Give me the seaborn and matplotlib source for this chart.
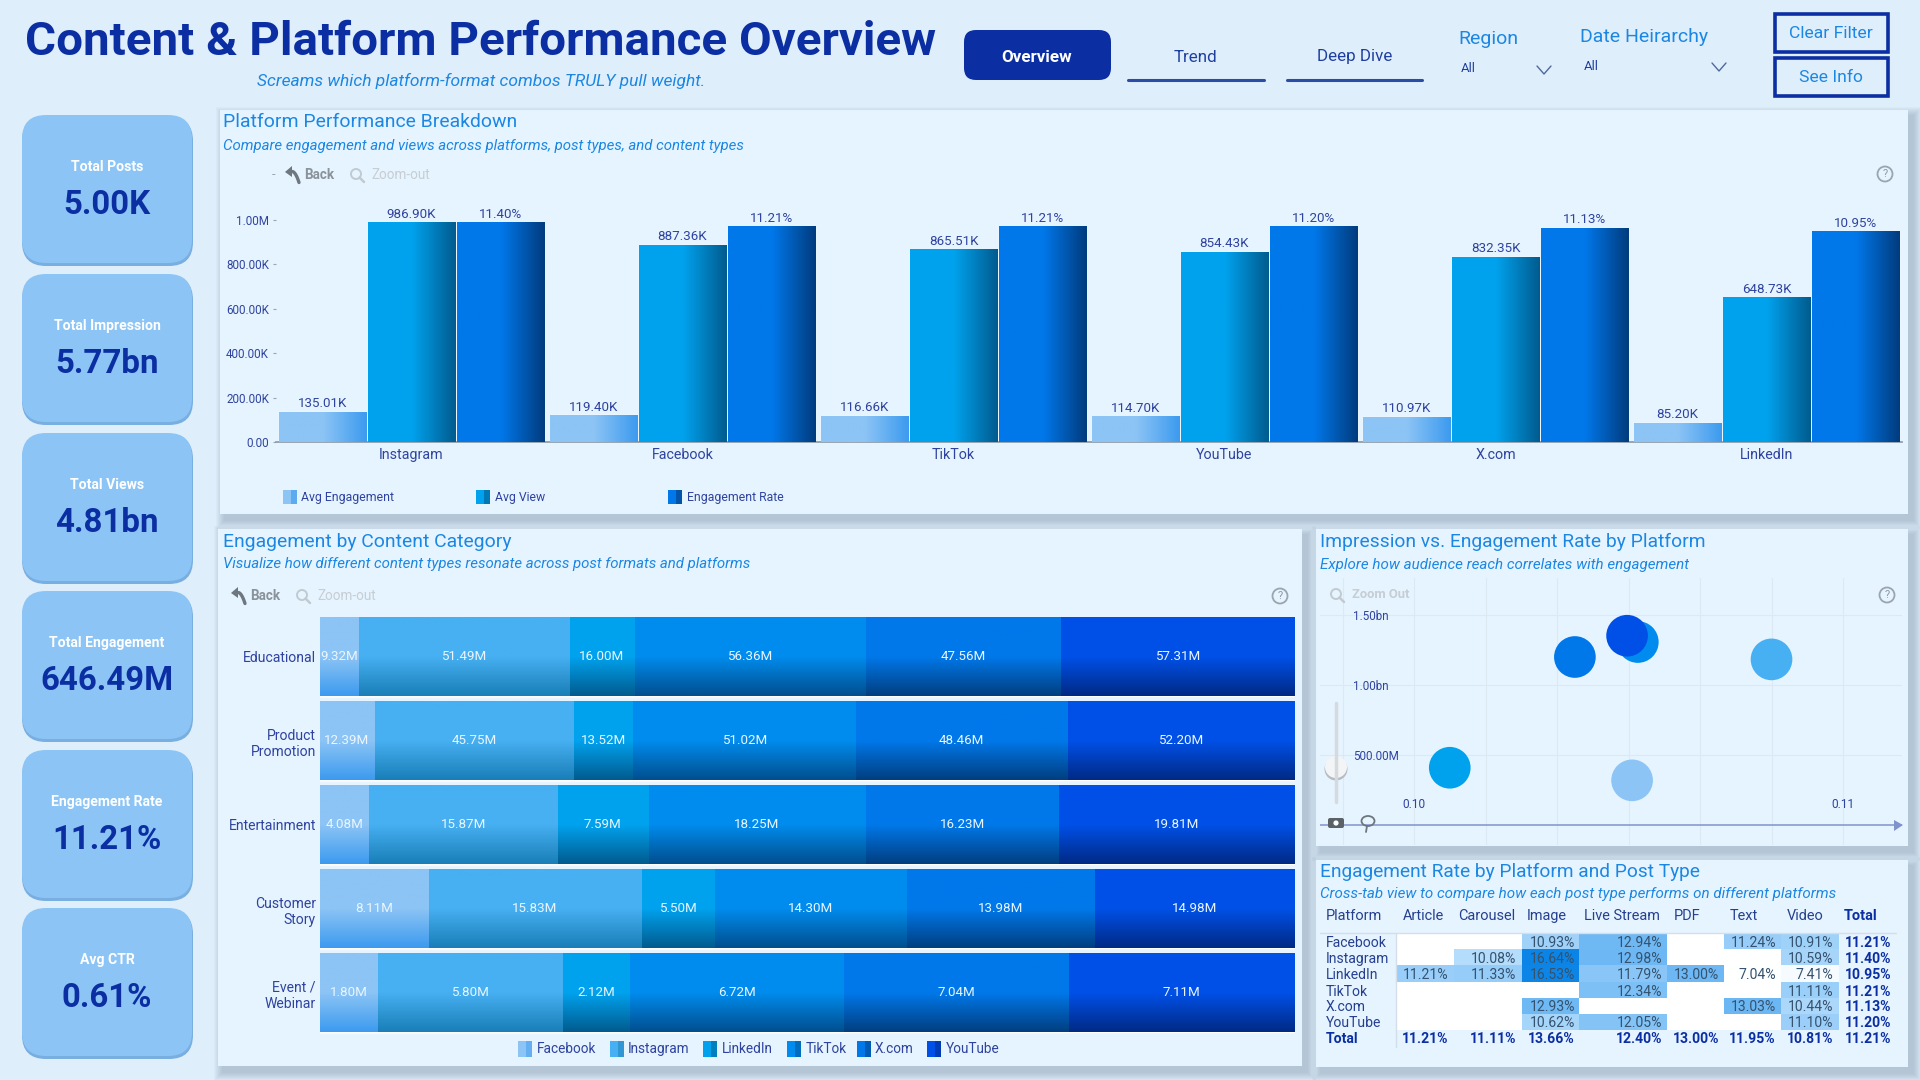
import numpy as np
import pandas as pd
import matplotlib
matplotlib.use("Agg")
import matplotlib.pyplot as plt
import seaborn as sns
from matplotlib.colors import LinearSegmentedColormap
from matplotlib.patches import Circle, Ellipse, FancyBboxPatch, Polygon, Rectangle

W, H = 1920, 1080

# KPI cards
kpi_labels = ["Total Posts", "Total Impression", "Total Views", "Total Engagement", "Engagement Rate", "Avg CTR"]
kpi_values = ["5.00K", "5.77bn", "4.81bn", "646.49M", "11.21%", "0.61%"]

# Platform Performance Breakdown
platforms_top = ["Instagram", "Facebook", "TikTok", "YouTube", "X.com", "LinkedIn"]
avg_engagement = [135.01, 119.40, 116.66, 114.70, 110.97, 85.20]  # K
avg_view = [986.90, 887.36, 865.51, 854.43, 832.35, 648.73]  # K
engagement_rate = [11.40, 11.21, 11.21, 11.20, 11.13, 10.95]  # %

# Engagement by Content Category (M)
categories = ["Educational", "Product\nPromotion", "Entertainment", "Customer\nStory", "Event /\nWebinar"]
platforms = ["Facebook", "Instagram", "LinkedIn", "TikTok", "X.com", "YouTube"]
cat_facebook = [9.32, 12.39, 4.08, 8.11, 1.80]
cat_instagram = [51.49, 45.75, 15.87, 15.83, 5.80]
cat_linkedin = [16.00, 13.52, 7.59, 5.50, 2.12]
cat_tiktok = [56.36, 51.02, 18.25, 14.30, 6.72]
cat_xcom = [47.56, 48.46, 16.23, 13.98, 7.04]
cat_youtube = [57.31, 52.20, 19.81, 14.98, 7.11]

# Impression vs. Engagement Rate (same platform order as above)
scatter_rate = [0.11205, 0.11400, 0.10950, 0.11213, 0.11125, 0.11198]
scatter_impr = [0.319, 1.183, 0.409, 1.307, 1.200, 1.352]  # bn

# Engagement Rate by Platform and Post Type
post_types = ["Article", "Carousel", "Image", "Live Stream", "PDF", "Text", "Video"]
rate_article = [np.nan, np.nan, 11.21, np.nan, np.nan, np.nan]
rate_carousel = [np.nan, 10.08, 11.33, np.nan, np.nan, np.nan]
rate_image = [10.93, 16.64, 16.53, np.nan, 12.93, 10.62]
rate_live = [12.94, 12.98, 11.79, 12.34, np.nan, 12.05]
rate_pdf = [np.nan, np.nan, 13.00, np.nan, np.nan, np.nan]
rate_text = [11.24, np.nan, 7.04, np.nan, 13.03, np.nan]
rate_video = [10.91, 10.59, 7.41, 11.11, 10.44, 11.10]
rate_total_col = [11.21, 11.40, 10.95, 11.21, 11.13, 11.20]
rate_total_row = [11.21, 11.11, 13.66, 12.40, 13.00, 11.95, 10.81, 11.21]

# colours
BG = "#DFEEFB"
PANEL = "#E6F4FF"
NAVY = "#0B2FA3"
AXIS_TXT = "#2E439F"
TITLE_BLUE = "#1B87E3"
CARD = "#8CC5F5"
TINTS = ["#8CC4F5", "#47B0F2", "#00A2EE", "#008CEE", "#0078EA", "#0050E8"]
SHADES = ["#3D9BEF", "#1A7FB8", "#005C8F", "#004F8F", "#003F80", "#002A85"]

sns.set_theme(style="white")
plt.rcParams["font.family"] = ["Roboto", "DejaVu Sans"]

fig = plt.figure(figsize=(W / 100, H / 100), dpi=100, facecolor=BG)


def px_axes(left, top, right, bottom, zorder=2):
    ax = fig.add_axes([left / W, 1 - bottom / H, (right - left) / W, (bottom - top) / H], zorder=zorder)
    ax.patch.set_alpha(0)
    return ax


def overlay(zorder):
    ax = px_axes(0, 0, W, H, zorder)
    ax.set_xlim(0, W)
    ax.set_ylim(H, 0)
    ax.axis("off")
    return ax


bg = overlay(0)
fg = overlay(10)


def label(x, y, s, px, color=AXIS_TXT, ha="left", weight="normal", style="normal", ax=None):
    (ax or fg).text(x, y, s, fontsize=px * 0.72, color=color, ha=ha, va="center",
                    fontweight=weight, fontstyle=style)


def panel(left, top, right, bottom):
    # soft shadow, mostly to the right and below
    for k in range(9, 0, -1):
        bg.add_patch(Rectangle((left - k + 5, top - k + 6), right - left + 2 * k, bottom - top + 2 * k,
                               color="#4F6B80", alpha=0.035, lw=0))
    bg.add_patch(Rectangle((left, top), right - left, bottom - top, color=PANEL, lw=0))


def gradient(ax, bar, light, dark, vertical=False):
    cmap = LinearSegmentedColormap.from_list("g", [(0, light), (0.5, light), (1, dark)])
    ramp = np.linspace(0, 1, 80)
    ramp = ramp.reshape(-1, 1) if vertical else ramp.reshape(1, -1)
    x, y, w, h = bar.get_x(), bar.get_y(), bar.get_width(), bar.get_height()
    ax.imshow(ramp, cmap=cmap, extent=(x, x + w, y + h, y), origin="upper", aspect="auto", zorder=3)


def help_icon(x, y):
    fg.add_patch(Circle((x, y), 7.5, fill=False, ec="#9AA5AE", lw=1.3))
    label(x, y, "?", 11, "#8C98A2", ha="center")


def zoom_icon(x, y):
    fg.add_patch(Circle((x - 1, y - 1), 5, fill=False, ec="#C2CAD1", lw=1.4))
    fg.plot([x + 2.5, x + 7], [y + 2.5, y + 7], color="#C2CAD1", lw=1.8)


def back_icon(x, y):
    fg.add_patch(Polygon([[x - 8, y - 3], [x - 1, y - 9], [x - 1, y + 2]], color="#6E7780", lw=0))
    t = np.linspace(0, 1, 12)
    fg.plot(x - 1 + 7 * t, y - 3.5 + 11 * t ** 2, color="#6E7780", lw=2.4)


def toolbar(arrow_x, back_x, zoom_x, text_x, y):
    back_icon(arrow_x, y)
    label(back_x, y, "Back", 13.5, "#8A929A", weight="bold")
    zoom_icon(zoom_x, y)
    label(text_x, y, "Zoom-out", 13.5, "#C6CDD3")


# ---- header
label(25, 42, "Content & Platform Performance Overview", 47.5, NAVY, weight="bold")
label(257, 81, "Screams which platform-format combos TRULY pull weight.", 17.4, TITLE_BLUE, style="italic")
fg.add_patch(FancyBboxPatch((964, 30), 147, 50, boxstyle="round,pad=0,rounding_size=12", color=NAVY, lw=0))
label(1037, 57, "Overview", 17, "white", ha="center", weight="bold")
for cx, x0, x1, name in [(1196, 1128, 1264, "Trend"), (1355, 1287, 1422, "Deep Dive")]:
    label(cx, 57, name, 17, "#1F3FA0", ha="center")
    fg.plot([x0, x1], [79.5, 79.5], color="#2B4BA8", lw=2.2)
label(1458, 39, "Region", 19.5, TITLE_BLUE)
label(1461, 68, "All", 13, "#1F3FA0")
label(1580, 36.5, "Date Heirarchy", 19.5, TITLE_BLUE)
label(1584, 66, "All", 13, "#1F3FA0")
for cx, cy in [(1544, 70), (1719, 67)]:
    fg.plot([cx - 7, cx, cx + 7], [cy - 4, cy + 4, cy - 4], color="#4D6A9C", lw=1)
for top, name in [(14, "Clear Filter"), (58, "See Info")]:
    fg.add_patch(Rectangle((1775, top), 113, 38, fill=False, ec=NAVY, lw=2.6))
    label(1831, top + 19.5, name, 17.5, TITLE_BLUE, ha="center")

# ---- KPI cards
card_tops = [115, 274, 433, 591, 750, 908]
for top, name, value in zip(card_tops, kpi_labels, kpi_values):
    bg.add_patch(FancyBboxPatch((22, top + 2), 171, 149, boxstyle="round,pad=0,rounding_size=24",
                                color="#78AEE0", lw=0))
    bg.add_patch(FancyBboxPatch((22, top), 170, 148, boxstyle="round,pad=0,rounding_size=24",
                                color=CARD, lw=0))
    label(107, top + 52, name, 14, "white", ha="center", weight="bold")
    label(107, top + 90, value, 33, NAVY, ha="center", weight="bold")

# ---- panels
panel(220, 110, 1908, 514)
panel(218, 529, 1302, 1066)
panel(1316, 529, 1908, 846)
panel(1316, 860, 1908, 1067)

# ---- Platform Performance Breakdown
label(223, 122, "Platform Performance Breakdown", 19.4, TITLE_BLUE)
label(223, 146, "Compare engagement and views across platforms, post types, and content types", 15,
      TITLE_BLUE, style="italic")
label(272, 175, "-", 13, "#9AA5AE")
toolbar(293, 304, 357, 371, 175)
help_icon(1885, 174)

er_scale = avg_view[0] / engagement_rate[0]
top_df = pd.DataFrame({
    "platform": platforms_top * 3,
    "metric": ["Avg Engagement"] * 6 + ["Avg View"] * 6 + ["Engagement Rate"] * 6,
    "value": [v * 1000 for v in avg_engagement] + [v * 1000 for v in avg_view]
    + [v * er_scale * 1000 for v in engagement_rate],
})
top_labels = [f"{v:.2f}K" for v in avg_engagement] + [f"{v:.2f}K" for v in avg_view] \
    + [f"{v:.2f}%" for v in engagement_rate]
top_colors = {"Avg Engagement": TINTS[0], "Avg View": TINTS[2], "Engagement Rate": TINTS[4]}
top_shades = [SHADES[0], SHADES[2], "#003C7E"]

ax = px_axes(276, 200, 1902, 442)
sns.barplot(data=top_df, x="platform", y="value", hue="metric", order=platforms_top,
            hue_order=list(top_colors), palette=top_colors, width=0.985, gap=0.015, saturation=1,
            errorbar=None, legend=False, ax=ax)
n = 0
for c, container in enumerate(ax.containers):
    for bar in container:
        gradient(ax, bar, top_colors[list(top_colors)[c]], top_shades[c])
        ax.text(bar.get_x() + bar.get_width() / 2, bar.get_height() + 8500, top_labels[n],
                ha="center", va="bottom", fontsize=9.6, color=AXIS_TXT)
        n += 1
ax.set_xlim(-0.5, 5.5)
ax.set_ylim(0, 242 / 222 * 1e6)
ax.set_yticks([0, 2e5, 4e5, 6e5, 8e5, 1e6], ["0.00", "200.00K", "400.00K", "600.00K", "800.00K", "1.00M"])
ax.tick_params(axis="y", left=True, length=2.5, width=0.8, color="#9AA5AE", labelsize=8.4,
               labelcolor=AXIS_TXT, pad=2.5)
ax.tick_params(axis="x", length=0, labelsize=10.3, labelcolor=AXIS_TXT, pad=4)
ax.set_xlabel("")
ax.set_ylabel("")
sns.despine(ax=ax, left=True)
ax.spines["bottom"].set_color("#8E9BA8")

for sx, tx, name, c0, c1 in [(283, 301, "Avg Engagement", TINTS[0], SHADES[0]),
                             (476, 495, "Avg View", TINTS[2], SHADES[2]),
                             (668, 687, "Engagement Rate", TINTS[4], "#003C7E")]:
    fg.add_patch(Rectangle((sx, 490), 14, 14, color=c0, lw=0))
    fg.add_patch(Rectangle((sx + 8, 490), 6, 14, color=c1, lw=0, alpha=0.6))
    label(tx, 497, name, 12.2)

# ---- Engagement by Content Category
label(223, 542, "Engagement by Content Category", 19.4, TITLE_BLUE)
label(223, 564, "Visualize how different content types resonate across post formats and platforms", 15,
      TITLE_BLUE, style="italic")
toolbar(239, 250, 303, 317, 596)
help_icon(1280, 596)

series = np.array([cat_facebook, cat_instagram, cat_linkedin, cat_tiktok, cat_xcom, cat_youtube])
shares = series / series.sum(axis=0)
cum = shares.cumsum(axis=0)

ax = px_axes(320, 615, 1295, 1035)
# longest first, so that the shorter stacks sit on top of it
for i in range(5, -1, -1):
    sns.barplot(x=cum[i], y=categories, orient="h", color=TINTS[i], saturation=1, width=0.93,
                errorbar=None, ax=ax)
for i, container in zip(range(5, -1, -1), ax.containers):
    for bar in container:
        gradient(ax, bar, TINTS[i], SHADES[i], vertical=True)
for i in range(6):
    for r in range(5):
        left = cum[i - 1][r] if i else 0
        ax.text(left + shares[i][r] / 2, r, f"{series[i][r]:.2f}M", ha="center", va="center",
                fontsize=9.6, color="#EAF6FF", zorder=5)
ax.set_xlim(0, 1)
ax.set_ylim(4.5, -0.5)
ax.set_xticks([])
ax.tick_params(axis="y", length=0, labelsize=10.1, labelcolor=AXIS_TXT, pad=3)
for t in ax.get_yticklabels():
    t.set_multialignment("right")
ax.set_xlabel("")
sns.despine(ax=ax, left=True, bottom=True)

for sx, tx, name, c0, c1 in zip([518, 610, 703, 787, 857, 927], [537, 628, 722, 806, 875, 946],
                                platforms, TINTS, SHADES):
    fg.add_patch(Rectangle((sx, 1041), 14, 16, color=c0, lw=0))
    fg.add_patch(Rectangle((sx + 8, 1041), 6, 16, color=c1, lw=0, alpha=0.5))
    label(tx, 1049, name, 13.6)

# ---- Impression vs. Engagement Rate
label(1320, 542, "Impression vs. Engagement Rate by Platform", 19.3, TITLE_BLUE)
label(1320, 565, "Explore how audience reach correlates with engagement", 15.1, TITLE_BLUE, style="italic")
zoom_icon(1337, 595)
label(1352, 595, "Zoom Out", 13, "#C6CDD3", weight="bold")
help_icon(1887, 595)

ax = px_axes(1320, 578, 1902, 845)
scatter_df = pd.DataFrame({"platform": platforms, "rate": scatter_rate, "impr": scatter_impr})
sns.scatterplot(data=scatter_df, x="rate", y="impr", hue="platform", palette=TINTS, s=900,
                linewidth=0, alpha=1, legend=False, ax=ax, zorder=3)
ax.set_xlim(0.107685, 0.115825)
ax.set_ylim(-20 / 140, 247 / 140)
ax.set_xticks(np.arange(0.108, 0.1155, 0.001), minor=True)
ax.set_xticks([0.109, 0.115], ["0.10", "0.11"])
ax.set_yticks([0.5, 1.0, 1.5], ["500.00M", "1.00bn", "1.50bn"])
ax.grid(True, which="both", color="#DCE8F2", lw=0.8)
ax.tick_params(axis="y", length=0, labelsize=8.4, labelcolor=AXIS_TXT, pad=-24)
for t in ax.get_yticklabels():
    t.set_horizontalalignment("left")
ax.tick_params(axis="x", which="both", length=0, labelsize=8.6, labelcolor=AXIS_TXT, pad=-34)
ax.set_xlabel("")
ax.set_ylabel("")
sns.despine(ax=ax, left=True, bottom=True)
ax.axhline(0, color="#7F93CC", lw=1.1, zorder=2)

fg.add_patch(Polygon([[1894, 820], [1903, 825], [1894, 831]], color="#7F93CC", lw=0))
fg.plot([1336, 1336], [703, 802], color="#D5DADF", lw=2.5, solid_capstyle="round")
fg.add_patch(Circle((1336, 769), 11.5, fc="#B5BBC1", lw=0))
fg.add_patch(Circle((1336, 767), 11, fc="#F3F4F5", lw=0))
fg.add_patch(FancyBboxPatch((1328, 818), 16, 10, boxstyle="round,pad=0,rounding_size=2", color="#5A6268", lw=0))
fg.add_patch(Circle((1336, 823), 2.6, color="white", lw=0))
fg.add_patch(Ellipse((1368, 821), 13, 10, fill=False, ec="#6E767D", lw=1.3))
fg.plot([1367, 1366], [826, 832], color="#6E767D", lw=1.3)

# ---- Engagement Rate table
label(1320, 872, "Engagement Rate by Platform and Post Type", 19.2, TITLE_BLUE)
label(1320, 894, "Cross-tab view to compare how each post type performs on different platforms", 15.1,
      TITLE_BLUE, style="italic")

col_edges = [1397, 1454, 1522, 1579, 1667, 1724, 1781, 1839]
head_x = [1403, 1458, 1527, 1584, 1674, 1730, 1787]
right_x = [1448, 1516, 1575, 1662, 1719, 1776, 1833, 1891]
row_y = [943, 959, 975, 992, 1007, 1023]
rate_cols = [rate_article, rate_carousel, rate_image, rate_live, rate_pdf, rate_text, rate_video]
cell_cmap = sns.blend_palette(["#FFFFFF", "#B0DAFB", "#62B2F3", "#0A84E6"], as_cmap=True)

label(1326, 916, "Platform", 14.5, "#26408F")
label(1844, 916, "Total", 14.5, NAVY, weight="bold")
fg.plot([1320, 1896], [933, 933], color="#D3DEE8", lw=1)
fg.plot([1396, 1396], [933, 1047], color="#D3DEE8", lw=1)

for j, name in enumerate(post_types):
    ax = px_axes(col_edges[j], 933, col_edges[j + 1], 1030)
    ax.set_facecolor("white")
    ax.patch.set_alpha(1)
    column = pd.DataFrame({name: rate_cols[j]}, index=platforms)
    sns.heatmap(column, vmin=7, vmax=16.64, cmap=cell_cmap, cbar=False, xticklabels=False,
                yticklabels=False, ax=ax)
    ax.set_xlabel("")
    ax.set_ylabel("")
    label(head_x[j], 916, name, 14.5, "#26408F")
    for r, v in enumerate(rate_cols[j]):
        if not np.isnan(v):
            label(right_x[j], row_y[r], f"{v:.2f}%", 14, "#35526E", ha="right")

for r, name in enumerate(platforms):
    label(1326, row_y[r], name, 14, "#26408F")
    label(right_x[7], row_y[r], f"{rate_total_col[r]:.2f}%", 14, NAVY, ha="right", weight="bold")
label(1326, 1039, "Total", 14, NAVY, weight="bold")
for x, v in zip(right_x, rate_total_row):
    label(x, 1039, f"{v:.2f}%", 14, NAVY, ha="right", weight="bold")

fig.savefig("out.png", dpi=100, facecolor=BG)
